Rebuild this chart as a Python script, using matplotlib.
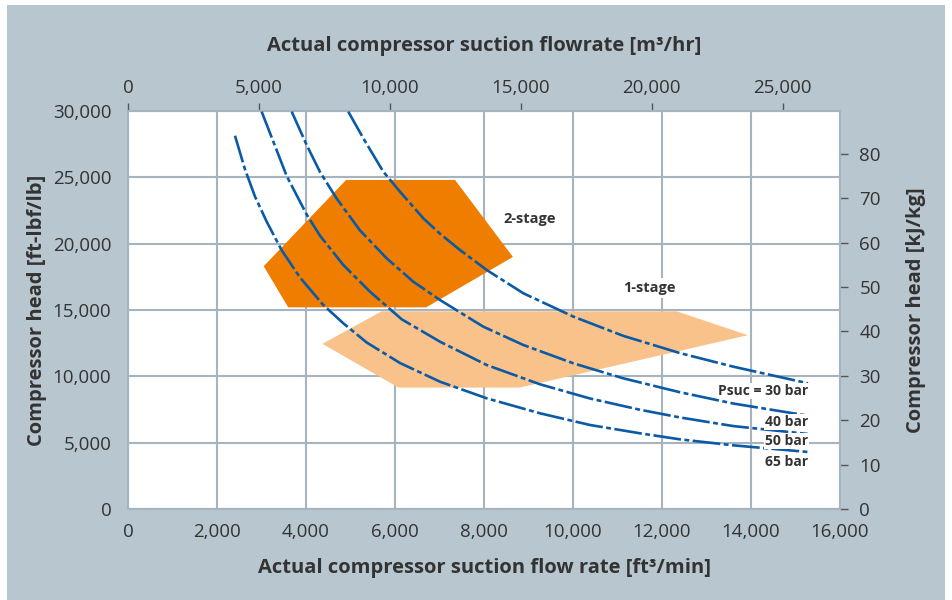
import numpy as np
import matplotlib.pyplot as plt
from matplotlib.patches import Polygon, Rectangle

plt.rcParams['font.family'] = ['Open Sans', 'DejaVu Sans']
plt.rcParams['lines.scale_dashes'] = False

# curves: flow [ft3/min], head [ft-lbf/lb]
p30_x = [4951, 5288, 5737, 6112, 6636, 7011, 7461, 8061, 8884, 10008, 11131, 12404, 13603, 15281]
p30_y = [29950, 27942, 25425, 23917, 21912, 20750, 19522, 18015, 16260, 14500, 13050, 11750, 10727, 9475]
p40_x = [3679, 4015, 4315, 4690, 5213, 5813, 6411, 7011, 7985, 8884, 10008, 11131, 12404, 13603, 15281]
p40_y = [29950, 27437, 25400, 23400, 21000, 18896, 17134, 15754, 13741, 12362, 10982, 9850, 8800, 7950, 7033]
p50_x = [3004, 3266, 3566, 4015, 4315, 4839, 5438, 6150, 7011, 8061, 9258, 10382, 11506, 12404, 13603, 15281]
p50_y = [29950, 27686, 25100, 22200, 20600, 18392, 16379, 14300, 12611, 10854, 9400, 8330, 7480, 6900, 6250, 5654]
p65_x = [2404, 2629, 2854, 3117, 3454, 3865, 4389, 4839, 5364, 6112, 7011, 8061, 9258, 10382, 11506,
         12404, 13603, 15281]
p65_y = [28138, 25600, 23550, 21656, 19500, 17450, 15377, 13998, 12550, 11005, 9596, 8344, 7214, 6332, 5706,
         5250, 4800, 4297]

curves = [(p30_x, p30_y), (p40_x, p40_y), (p50_x, p50_y), (p65_x, p65_y)]
curve_labels = ['Psuc = 30 bar', '40 bar', '50 bar', '65 bar']
curve_label_y = [8895, 6558, 5126, 3543]

# operating envelopes
stage2_x = [4900, 7350, 8650, 6700, 3600, 3050]
stage2_y = [24800, 24800, 19000, 15200, 15200, 18300]
stage1_x = [4370, 5700, 12330, 13930, 8800, 6080]
stage1_y = [12450, 14900, 14900, 13100, 9150, 9150]

bg = '#b8c6cf'
grid_c = '#a5b4bf'
txt = '#333333'
blue = '#0a5aa6'

fig = plt.figure(figsize=(9.52, 6.0), dpi=100)
fig.patch.set_facecolor('white')
fig.patches.append(Rectangle((7 / 952, 0), 938 / 952, 595 / 600, transform=fig.transFigure,
                             facecolor=bg, edgecolor='none', zorder=-10))

ax = fig.add_axes([128 / 952, 1 - 509 / 600, 712 / 952, 398 / 600])
ax.set_facecolor('white')
ax.set_xlim(0, 16000)
ax.set_ylim(0, 30000)

ax.add_patch(Polygon(np.column_stack([stage2_x, stage2_y]), closed=True,
                     facecolor='#ef7d00', edgecolor='none', zorder=2))
ax.add_patch(Polygon(np.column_stack([stage1_x, stage1_y]), closed=True,
                     facecolor='#f8c28a', edgecolor='none', zorder=2))

for (cx, cy), lab, ly in zip(curves, curve_labels, curve_label_y):
    ax.plot(cx, cy, color=blue, lw=1.9, linestyle=(0, (20, 2.5, 3.5, 2.5)), zorder=3,
            solid_joinstyle='round', dash_joinstyle='round', dash_capstyle='butt')
    ax.text(15281, ly, lab, ha='right', va='center', fontsize=10, fontweight='bold', color=txt,
            zorder=4, bbox=dict(facecolor='white', edgecolor='none', pad=0.5))

ax.text(9034, 21860, '2-stage', ha='center', va='center', fontsize=10.5, fontweight='bold',
        color=txt, zorder=4, bbox=dict(facecolor='white', edgecolor='none', pad=1))
ax.text(11708, 16660, '1-stage', ha='center', va='center', fontsize=10.5, fontweight='bold',
        color=txt, zorder=4, bbox=dict(facecolor='white', edgecolor='none', pad=2))

ax.set_xticks(np.arange(0, 16001, 2000))
ax.set_yticks(np.arange(0, 30001, 5000))
ax.xaxis.set_major_formatter(plt.FuncFormatter(lambda v, p: f'{int(v):,}'))
ax.yaxis.set_major_formatter(plt.FuncFormatter(lambda v, p: f'{int(v):,}'))
ax.grid(True, color=grid_c, lw=1.5, zorder=1)
ax.set_axisbelow(True)
ax.tick_params(axis='both', length=0, labelsize=13.5, labelcolor=txt)
ax.tick_params(axis='x', pad=10)
ax.tick_params(axis='y', pad=12)
for s in ax.spines.values():
    s.set_color(grid_c)
    s.set_linewidth(1.5)

ax.set_xlabel('Actual compressor suction flow rate [ft³/min]', fontsize=14.5, fontweight='bold',
              color=txt, labelpad=12)
ax.set_ylabel('Compressor head [ft-lbf/lb]', fontsize=14.5, fontweight='bold', color=txt, labelpad=4)

# top axis in m3/hr
top = ax.secondary_xaxis('top', functions=(lambda f: f * 1.699, lambda m: m / 1.699))
top.set_xticks(np.arange(0, 25001, 5000))
top.xaxis.set_major_formatter(plt.FuncFormatter(lambda v, p: f'{int(v):,}'))
top.tick_params(length=6, width=1, color='#555555', labelsize=13.5, labelcolor=txt, pad=4)
top.spines['top'].set_visible(False)
top.set_xlabel('Actual compressor suction flowrate [m³/hr]', fontsize=14.5, fontweight='bold',
               color=txt, labelpad=20)

# right axis in kJ/kg
right = ax.secondary_yaxis('right', functions=(lambda h: h * 0.0029891, lambda k: k / 0.0029891))
right.set_yticks(np.arange(0, 81, 10))
right.tick_params(length=6, width=1, color='#555555', labelsize=13.5, labelcolor=txt, pad=8)
right.spines['right'].set_visible(False)
right.set_ylabel('Compressor head [kJ/kg]', fontsize=14.5, fontweight='bold', color=txt, labelpad=18)

fig.savefig('out.png', dpi=100, facecolor=fig.get_facecolor())
